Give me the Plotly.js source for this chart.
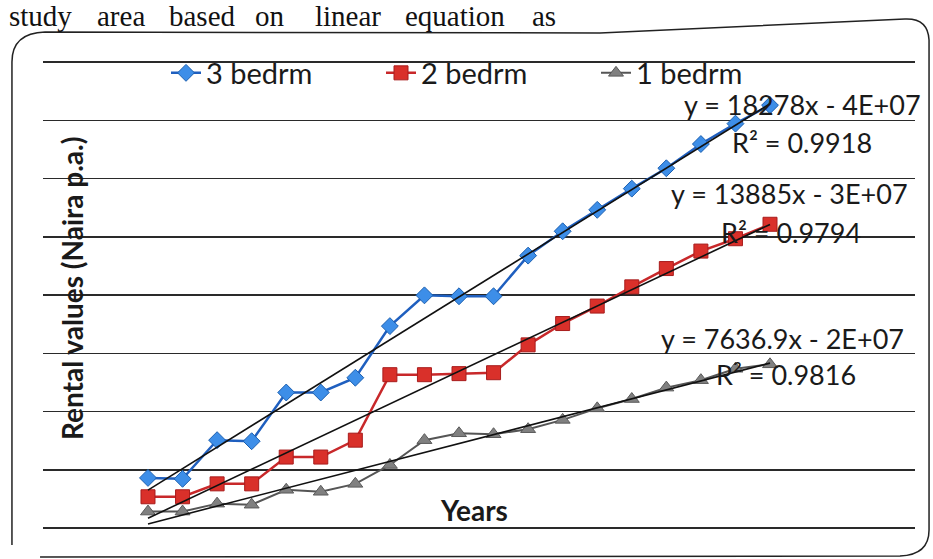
<!DOCTYPE html>
<html>
<head>
<meta charset="utf-8">
<script src="https://cdn.plot.ly/plotly-3.0.1.min.js"></script>
<style>html,body{margin:0;padding:0;background:#fff;}#chart{width:933px;height:559px;}</style>
</head>
<body>
<div id="chart"></div>
<script>
// ---- data ----
const years = [1995,1996,1997,1998,1999,2000,2001,2002,2003,2004,2005,2006,2007,2008,2009,2010,2011,2012,2013];
const bed3 = [43000,42200,75400,74500,116300,116300,129000,173300,199700,198900,198900,233800,254700,273100,291300,308800,329600,347100,362900];
const bed2 = [26800,26800,37900,37900,60900,60900,75400,131600,131600,132500,133300,157200,175500,190500,207000,222700,237700,248300,260700];
const bed1 = [14100,14100,20900,20000,32800,31100,37900,54100,75400,81300,80500,84800,92800,102700,110700,120500,126900,136700,140500];
const seriesNames = ["3 bedrm","2 bedrm","1 bedrm"];
const eqLabels = ["y = 18278x - 4E+07","y = 13885x - 3E+07","y = 7636.9x - 2E+07"];
const r2Labels = ["R\u00B2 = 0.9918","R\u00B2 = 0.9794","R\u00B2 = 0.9816"];
const xTitle = "Years";
const yTitle = "Rental values (Naira p.a.)";
const headerWords = ["study","area","based","on","linear","equation","as"];

// ---- layout geometry ----
const W=933,H=559,L=43,R=18,T=58,B=31;
const pw=W-L-R, ph=H-T-B;
const px=x=>(x-L)/pw, py=y=>(H-B-y)/ph;
const yTop=400000*(H-B-T)/(H-B-62);
const FONT='Lato, "Open Sans", sans-serif';

function fit(xs,ys){
  const n=xs.length; let sx=0,sy=0,sxx=0,sxy=0;
  for(let i=0;i<n;i++){sx+=xs[i];sy+=ys[i];sxx+=xs[i]*xs[i];sxy+=xs[i]*ys[i];}
  const m=(n*sxy-sx*sy)/(n*sxx-sx*sx); const b=(sy-m*sx)/n;
  return xs.map(x=>m*x+b);
}

const styles=[
  {line:'#1f5fbf',mk:'#3d8ee8',mkl:'#1b5fb0',sym:'diamond',size:13,lw:2.5},
  {line:'#c8282a',mk:'#d9302a',mkl:'#a81c1c',sym:'square',size:14,lw:2.5},
  {line:'#555555',mk:'#808080',mkl:'#5a5a5a',sym:'triangle-up',size:13,lw:2}
];
const data=[];
[bed3,bed2,bed1].forEach((ys,i)=>{
  data.push({x:years,y:ys,type:'scatter',mode:'lines+markers',name:seriesNames[i],
    line:{color:styles[i].line,width:styles[i].lw},
    marker:{symbol:styles[i].sym,size:styles[i].size,color:styles[i].mk,line:{color:styles[i].mkl,width:1}}});
});
[bed3,bed2,bed1].forEach((ys,i)=>{
  data.push({x:years,y:fit(years,ys),type:'scatter',mode:'lines',showlegend:false,hoverinfo:'skip',
    line:{color:'#111',width:1.6}});
});

const ann=[];
const eqPos=[[802,104],[789,193],[782,338]];
const r2Pos=[[802,142],[791,232],[786,375]];
eqLabels.forEach((t,i)=>ann.push({text:t,xref:'paper',yref:'paper',x:px(eqPos[i][0]),y:py(eqPos[i][1]),showarrow:false,xanchor:'center',yanchor:'middle',font:{family:FONT,size:27,color:'#1a1a1a'}}));
r2Labels.forEach((t,i)=>ann.push({text:t,xref:'paper',yref:'paper',x:px(r2Pos[i][0]),y:py(r2Pos[i][1]),showarrow:false,xanchor:'center',yanchor:'middle',font:{family:FONT,size:27,color:'#1a1a1a'}}));
ann.push({text:'<b>'+xTitle+'</b>',xref:'paper',yref:'paper',x:px(474),y:py(510),showarrow:false,xanchor:'center',yanchor:'middle',font:{family:FONT,size:28,color:'#1a1a1a'}});
ann.push({text:'<b>'+yTitle+'</b>',xref:'paper',yref:'paper',x:px(72),y:py(289),showarrow:false,textangle:-90,xanchor:'center',yanchor:'middle',font:{family:FONT,size:28,color:'#1a1a1a'}});
const wordX=[7,95,167,253,313,403,530];
headerWords.forEach((w,i)=>ann.push({text:w,xref:'paper',yref:'paper',x:px(wordX[i]),y:py(16),showarrow:false,xanchor:'left',yanchor:'middle',font:{family:'"Liberation Serif", "DejaVu Serif", serif',size:29,color:'#111'}}));

function P(x,y){return px(x).toFixed(4)+','+py(y).toFixed(4);}
const framePath='M'+P(12,545)+' L'+P(12,62)+' Q'+P(12,33)+' '+P(45,32)+' L'+P(600,33)+' L'+P(905,19)+' Q'+P(928,18)+' '+P(929,40)+' L'+P(929,530)+' Q'+P(929,555)+' '+P(900,556)+' L'+P(40,557);

const layout={
  width:W,height:H,margin:{l:L,r:R,t:T,b:B},
  paper_bgcolor:'#fff',plot_bgcolor:'rgba(0,0,0,0)',
  font:{family:FONT,color:'#1a1a1a'},
  xaxis:{range:[1995-(148-L)/34.56,2013+(915-770)/34.56],showgrid:false,zeroline:false,showticklabels:false,ticks:'',showline:false},
  yaxis:{range:[0,yTop],tick0:0,dtick:50000,showgrid:true,gridcolor:'#2a2a2a',gridwidth:1.5,zeroline:true,zerolinecolor:'#2a2a2a',zerolinewidth:1.5,showticklabels:false,ticks:'',showline:false},
  showlegend:true,
  legend:{orientation:'h',x:px(166),y:py(73),xanchor:'left',yanchor:'middle',bgcolor:'rgba(0,0,0,0)',entrywidth:170,entrywidthmode:'pixels',font:{family:FONT,size:29,color:'#1a1a1a'}},
  annotations:ann,
  shapes:[{type:'path',xref:'paper',yref:'paper',path:framePath,line:{color:'#222',width:1.5},fillcolor:'rgba(0,0,0,0)'}]
};
Plotly.newPlot('chart',data,layout,{displayModeBar:false,staticPlot:true});
</script>
</body>
</html>
